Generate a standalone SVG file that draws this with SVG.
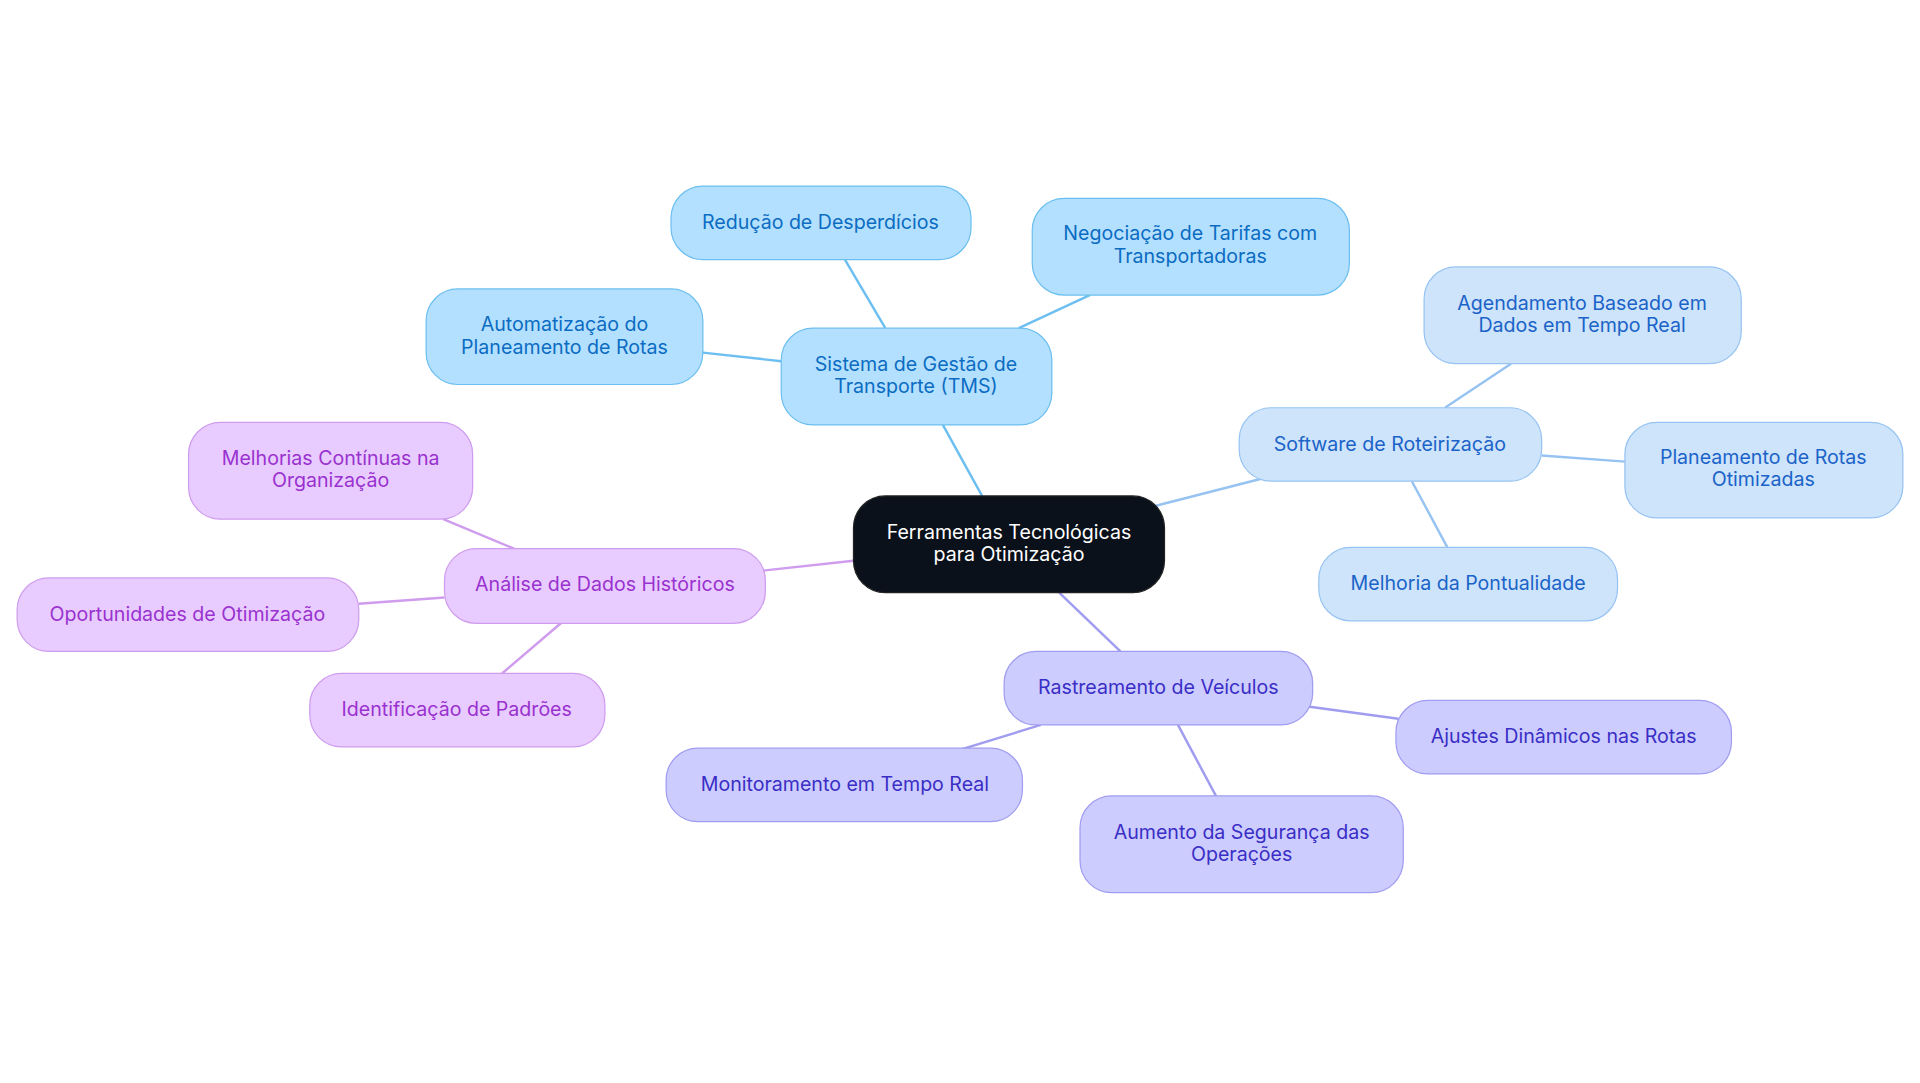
<svg xmlns="http://www.w3.org/2000/svg" width="1920" height="1083" viewBox="0 0 1920 1083">
<style>
text{font-family:Inter,"Noto Sans",sans-serif;font-size:16px;text-anchor:middle}
.a rect{fill:#b3e0ff;stroke:#6cbff0}.a text{fill:#0b6cc2}
.b rect{fill:#cde4fb;stroke:#97c3f2}.b text{fill:#1b63c8}
.c rect{fill:#ccccff;stroke:#a09cf0}.c text{fill:#3a2ec5}
.d rect{fill:#e8ccff;stroke:#cf9cee}.d text{fill:#9a32cf}
#conn line{stroke-width:2}
</style>
<rect width="1920" height="1083" fill="#fff"/>
<g transform="scale(1.2245)">
<g id="conn">
<line x1="802" y1="405" x2="770" y2="347" stroke="#6cbff0"/>
<line x1="723" y1="268" x2="690" y2="212" stroke="#6cbff0"/>
<line x1="832" y1="268" x2="890" y2="241" stroke="#6cbff0"/>
<line x1="638" y1="295" x2="574" y2="288" stroke="#6cbff0"/>
<line x1="944" y1="413" x2="1030" y2="391" stroke="#97c3f2"/>
<line x1="1180" y1="333" x2="1234" y2="297" stroke="#97c3f2"/>
<line x1="1259" y1="372" x2="1327" y2="377" stroke="#97c3f2"/>
<line x1="1153" y1="393" x2="1182" y2="447" stroke="#97c3f2"/>
<line x1="865" y1="484" x2="915" y2="532" stroke="#a09cf0"/>
<line x1="1068" y1="577" x2="1142" y2="587" stroke="#a09cf0"/>
<line x1="850" y1="592" x2="785" y2="612" stroke="#a09cf0"/>
<line x1="962" y1="592" x2="993" y2="650" stroke="#a09cf0"/>
<line x1="697" y1="458" x2="623" y2="466" stroke="#cf9cee"/>
<line x1="422" y1="449" x2="362" y2="424" stroke="#cf9cee"/>
<line x1="363" y1="488" x2="293" y2="493" stroke="#cf9cee"/>
<line x1="458" y1="509" x2="410" y2="550" stroke="#cf9cee"/>
</g>
<g id="center"><rect x="697" y="405" width="254" height="79" rx="26" fill="#0b111b" stroke="#222"/><text x="824" y="440" fill="#fff">Ferramentas Tecnológicas</text><text x="824" y="458" fill="#fff">para Otimização</text></g>
<g id="tms" class="a"><rect x="638" y="268" width="221" height="79" rx="26"/><text x="748" y="303">Sistema de Gestão de</text><text x="748" y="321">Transporte (TMS)</text></g>
<g id="reducao" class="a"><rect x="548" y="152" width="245" height="60" rx="26"/><text x="670" y="187">Redução de Desperdícios</text></g>
<g id="negociacao" class="a"><rect x="843" y="162" width="259" height="79" rx="26"/><text x="972" y="196">Negociação de Tarifas com</text><text x="972" y="215">Transportadoras</text></g>
<g id="automatizacao" class="a"><rect x="348" y="236" width="226" height="78" rx="26"/><text x="461" y="270">Automatização do</text><text x="461" y="289">Planeamento de Rotas</text></g>
<g id="software" class="b"><rect x="1012" y="333" width="247" height="60" rx="26"/><text x="1135" y="368">Software de Roteirização</text></g>
<g id="agendamento" class="b"><rect x="1163" y="218" width="259" height="79" rx="26"/><text x="1292" y="253">Agendamento Baseado em</text><text x="1292" y="271">Dados em Tempo Real</text></g>
<g id="planeamento" class="b"><rect x="1327" y="345" width="227" height="78" rx="26"/><text x="1440" y="379">Planeamento de Rotas</text><text x="1440" y="397">Otimizadas</text></g>
<g id="melhoria" class="b"><rect x="1077" y="447" width="244" height="60" rx="26"/><text x="1199" y="482">Melhoria da Pontualidade</text></g>
<g id="rastreamento" class="c"><rect x="820" y="532" width="252" height="60" rx="26"/><text x="946" y="567">Rastreamento de Veículos</text></g>
<g id="ajustes" class="c"><rect x="1140" y="572" width="274" height="60" rx="26"/><text x="1277" y="607">Ajustes Dinâmicos nas Rotas</text></g>
<g id="monitoramento" class="c"><rect x="544" y="611" width="291" height="60" rx="26"/><text x="690" y="646">Monitoramento em Tempo Real</text></g>
<g id="aumento" class="c"><rect x="882" y="650" width="264" height="79" rx="26"/><text x="1014" y="685">Aumento da Segurança das</text><text x="1014" y="703">Operações</text></g>
<g id="analise" class="d"><rect x="363" y="448" width="262" height="61" rx="26"/><text x="494" y="483">Análise de Dados Históricos</text></g>
<g id="melhorias" class="d"><rect x="154" y="345" width="232" height="79" rx="26"/><text x="270" y="380">Melhorias Contínuas na</text><text x="270" y="398">Organização</text></g>
<g id="oportunidades" class="d"><rect x="14" y="472" width="279" height="60" rx="26"/><text x="153" y="507">Oportunidades de Otimização</text></g>
<g id="identificacao" class="d"><rect x="253" y="550" width="241" height="60" rx="26"/><text x="373" y="585">Identificação de Padrões</text></g>
</g>
</svg>
